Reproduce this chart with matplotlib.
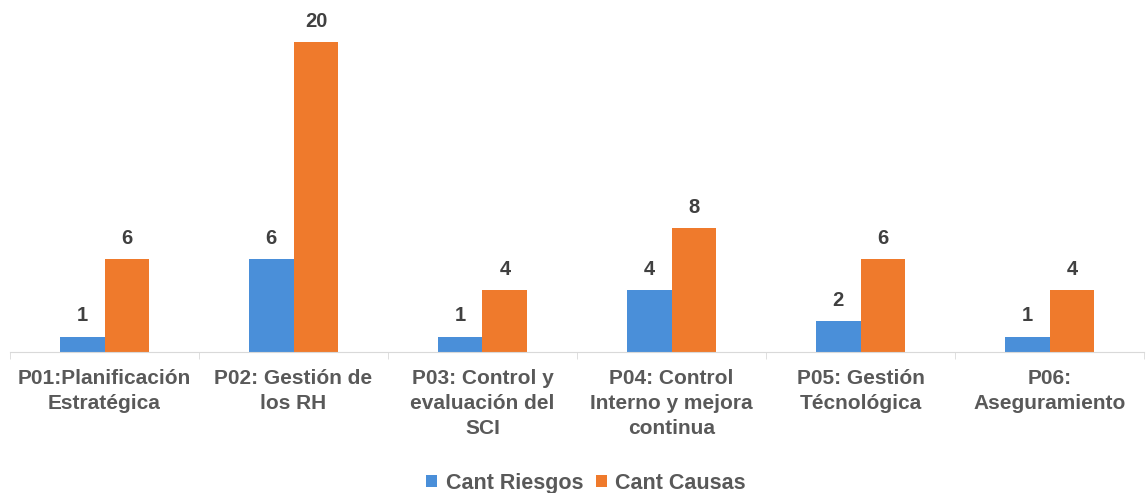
import numpy as np
import matplotlib.pyplot as plt

categorias = ["P01:Planificación\nEstratégica", "P02: Gestión de\nlos RH",
              "P03: Control y\nevaluación del\nSCI", "P04: Control\nInterno y mejora\ncontinua",
              "P05: Gestión\nTécnológica", "P06:\nAseguramiento"]
riesgos = [1, 6, 1, 4, 2, 1]
causas = [6, 20, 4, 8, 6, 4]

plt.rcParams['font.family'] = ['Liberation Sans', 'DejaVu Sans']

fig = plt.figure(figsize=(11.46, 4.93), dpi=100)
ax = fig.add_axes([10 / 1146, 141 / 493, 1134 / 1146, 341 / 493])

x = np.arange(len(categorias))
w = 0.238
b1 = ax.bar(x - w / 2, riesgos, w, color="#4a8fd9", label="Cant Riesgos")
b2 = ax.bar(x + w / 2, causas, w, color="#ef7a2c", label="Cant Causas")

# value labels above the bars
for bars in (b1, b2):
    for r in bars:
        ax.annotate(str(int(r.get_height())), (r.get_x() + r.get_width() / 2, r.get_height()),
                    xytext=(0, 8), textcoords="offset points", ha="center", va="bottom",
                    fontsize=14.5, fontweight="bold", color="#404040")

ax.set_xlim(-0.5, len(categorias) - 0.5)
ax.set_ylim(0, 22)
ax.set_xticks(x)
ax.set_xticklabels(categorias, fontsize=15, fontweight="bold", color="#595959")
for lbl in ax.get_xticklabels():
    lbl.set_linespacing(1.4)
ax.set_xticks(np.arange(len(categorias) + 1) - 0.5, minor=True)
ax.tick_params(axis="x", which="major", length=0, pad=12)
ax.tick_params(axis="x", which="minor", length=5, color="#d9d9d9")
ax.set_yticks([])
for s in ("top", "right", "left"):
    ax.spines[s].set_visible(False)
ax.spines["bottom"].set_color("#d9d9d9")

ax.legend(loc="center", bbox_to_anchor=(0.508, -0.385), ncol=2, frameon=False,
          handlelength=0.5, handleheight=0.5, handletextpad=0.4, columnspacing=0.6,
          prop={"size": 15.5, "weight": "bold"}, labelcolor="#595959")

fig.savefig("out.png", dpi=100)
